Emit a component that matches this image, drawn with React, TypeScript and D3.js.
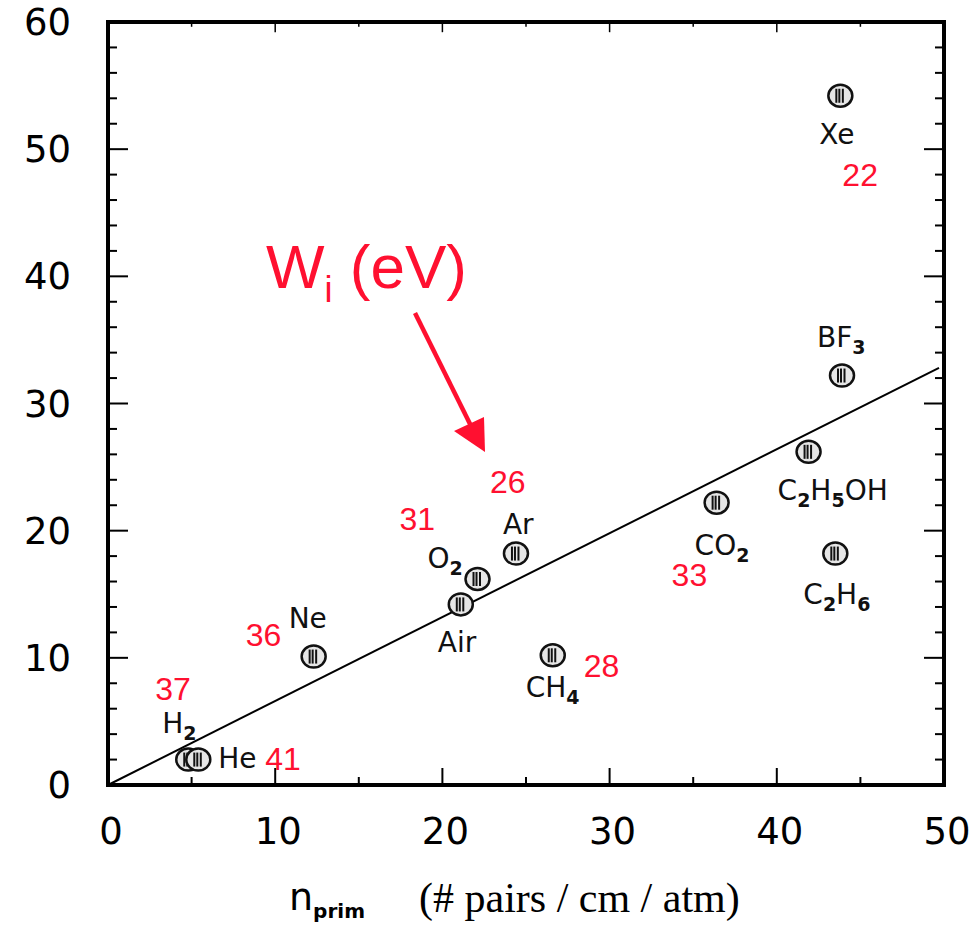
import React, { useRef, useEffect } from "react";
import * as d3 from "d3";

// gases, primary ionisation (x) and the value on the y axis
const gases = ["H2", "He", "Ne", "Air", "O2", "Ar", "CH4", "CO2", "C2H5OH", "BF3", "C2H6", "Xe"];
const nPrim = [4.8, 5.4, 12.3, 21.1, 22.1, 24.4, 26.6, 36.4, 41.9, 43.9, 43.5, 43.8];
const nTotal = [2.0, 2.0, 10.1, 14.2, 16.2, 18.2, 10.2, 22.2, 26.2, 32.2, 18.2, 54.2];
// W_i (eV) written in red next to some gases
const wi = [37, 41, 36, null, 31, 26, 28, 33, null, null, null, 22];
// label pieces: [text, isSubscript]
const labelParts = {
  H2: [["H", false], ["2", true]],
  He: [["He", false]],
  Ne: [["Ne", false]],
  Air: [["Air", false]],
  O2: [["O", false], ["2", true]],
  Ar: [["Ar", false]],
  CH4: [["CH", false], ["4", true]],
  CO2: [["CO", false], ["2", true]],
  C2H5OH: [["C", false], ["2", true], ["H", false], ["5", true], ["OH", false]],
  BF3: [["BF", false], ["3", true]],
  C2H6: [["C", false], ["2", true], ["H", false], ["6", true]],
  Xe: [["Xe", false]],
};
const fitLine = [[0, 0], [49.7, 32.8]];
const xTicks = [0, 10, 20, 30, 40, 50];
const yTicks = [0, 10, 20, 30, 40, 50, 60];

// label offsets in px from the marker: name [dx, dy], W_i [dx, dy]
const nameOffset = {
  H2: [-26, -27], He: [20, 8], Ne: [-25, -29], Air: [-23, 48], O2: [-50, -11],
  Ar: [-13, -20], CH4: [-27, 42], CO2: [-22, 52], C2H5OH: [-31, 48],
  BF3: [-25, -29], C2H6: [-32, 50], Xe: [-21, 48],
};
const wiOffset = {
  H2: [-33, -60], He: [67, 10], Ne: [-68, -11], O2: [-78, -49], Ar: [-26, -61],
  CH4: [31, 22], CO2: [-45, 83], Xe: [2, 90],
};

const RED = "#ff1030";

const App = () => {
  const svgRef = useRef();

  useEffect(() => {
    const width = 977;
    const height = 925;
    const margin = { top: 22, right: 33, bottom: 140, left: 108 };

    const svg = d3.select(svgRef.current).attr("width", width).attr("height", height);
    svg.selectAll("*").remove();

    const x = d3.scaleLinear().domain([0, 50]).range([margin.left, width - margin.right]);
    const y = d3.scaleLinear().domain([0, 60]).range([height - margin.bottom, margin.top]);
    const x0 = x(0), x1 = x(50), y0 = y(0), y1 = y(60);

    // ticks (inside, all four sides)
    const g = svg.append("g").attr("stroke", "#000");
    d3.range(0, 50.01, 5).forEach((v) => {
      const len = v % 10 === 0 ? 17 : 8;
      g.append("line").attr("x1", x(v)).attr("x2", x(v)).attr("y1", y0).attr("y2", y0 - len).attr("stroke-width", 2);
      g.append("line").attr("x1", x(v)).attr("x2", x(v)).attr("y1", y1).attr("y2", y1 + len * 0.6).attr("stroke-width", 1.5);
    });
    d3.range(0, 60.01, 2).forEach((v) => {
      const len = v % 10 === 0 ? 20 : 9;
      g.append("line").attr("x1", x0).attr("x2", x0 + len).attr("y1", y(v)).attr("y2", y(v)).attr("stroke-width", 2);
      g.append("line").attr("x1", x1).attr("x2", x1 - len).attr("y1", y(v)).attr("y2", y(v)).attr("stroke-width", 2);
    });

    // frame
    svg.append("rect")
      .attr("x", x0).attr("y", y1).attr("width", x1 - x0).attr("height", y0 - y1)
      .attr("fill", "none").attr("stroke", "#000").attr("stroke-width", 4);

    // tick labels
    svg.append("g").selectAll("text").data(xTicks).enter().append("text")
      .attr("x", (d) => x(d) + 3).attr("y", y0 + 59)
      .attr("text-anchor", "middle")
      .style("font-family", "DejaVu Sans").style("font-size", "37px")
      .text((d) => d);
    svg.append("g").selectAll("text").data(yTicks).enter().append("text")
      .attr("x", 71).attr("y", (d) => y(d) + 13)
      .attr("text-anchor", "end")
      .style("font-family", "DejaVu Sans").style("font-size", "37px")
      .text((d) => d);

    // fit line
    svg.append("path")
      .attr("d", d3.line().x((d) => x(d[0])).y((d) => y(d[1]))(fitLine))
      .attr("fill", "none").attr("stroke", "#000").attr("stroke-width", 2);

    // markers
    const pts = gases.map((name, i) => ({ name, px: x(nPrim[i]), py: y(nTotal[i]), wi: wi[i] }));
    const mk = svg.append("g").selectAll("g").data(pts).enter().append("g")
      .attr("transform", (d) => `translate(${d.px},${d.py})`);
    mk.append("ellipse").attr("rx", 12).attr("ry", 11)
      .attr("fill", "#e6e6e6").attr("stroke", "#111").attr("stroke-width", 2.5);
    [-4, -1, 2.5].forEach((dx) => {
      mk.append("line").attr("x1", dx).attr("x2", dx).attr("y1", -7).attr("y2", 7)
        .attr("stroke", "#111").attr("stroke-width", 2);
    });

    // gas names
    pts.forEach((d) => {
      const [dx, dy] = nameOffset[d.name];
      const t = svg.append("text")
        .attr("x", d.px + dx).attr("y", d.py + dy)
        .style("font-family", "DejaVu Sans").style("font-size", "28px").attr("fill", "#111");
      let sub = false;
      labelParts[d.name].forEach(([s, isSub]) => {
        const ts = t.append("tspan").text(s);
        if (isSub && !sub) ts.attr("dy", 7).style("font-size", "19px").style("font-weight", "bold");
        else if (isSub) ts.style("font-size", "19px").style("font-weight", "bold");
        else if (sub) ts.attr("dy", -7);
        sub = isSub;
      });
    });

    // W_i values
    pts.filter((d) => d.wi !== null).forEach((d) => {
      const [dx, dy] = wiOffset[d.name];
      svg.append("text")
        .attr("x", d.px + dx).attr("y", d.py + dy)
        .style("font-family", "Liberation Sans").style("font-size", "32px").attr("fill", RED)
        .text(d.wi);
    });

    // W_i (eV) annotation with arrow
    const ann = svg.append("text").attr("x", 266).attr("y", 288)
      .style("font-family", "Liberation Sans").style("font-size", "62px").attr("fill", RED);
    ann.append("tspan").text("W");
    ann.append("tspan").attr("dy", 14).style("font-size", "36px").text("i");
    ann.append("tspan").attr("dy", -14).text(" (eV)");

    svg.append("line").attr("x1", 415).attr("y1", 313).attr("x2", 474).attr("y2", 432)
      .attr("stroke", RED).attr("stroke-width", 4.5);
    svg.append("path").attr("d", "M454,431 L484,417 L485,452 Z").attr("fill", RED);

    // x axis title
    const tt = svg.append("text").attr("x", 289).attr("y", 910);
    tt.append("tspan").style("font-family", "DejaVu Sans").style("font-size", "38px").text("n");
    tt.append("tspan").attr("dy", 8).style("font-family", "DejaVu Sans").style("font-size", "20px")
      .style("font-weight", "bold").text("prim");
    svg.append("text").attr("x", 419).attr("y", 912)
      .style("font-family", "Liberation Serif").style("font-size", "42px")
      .text("(# pairs / cm / atm)");
  }, []);

  return (
    <div style={{ position: "absolute", left: 0, top: 0 }}>
      <svg ref={svgRef}></svg>
    </div>
  );
};

export default App;
